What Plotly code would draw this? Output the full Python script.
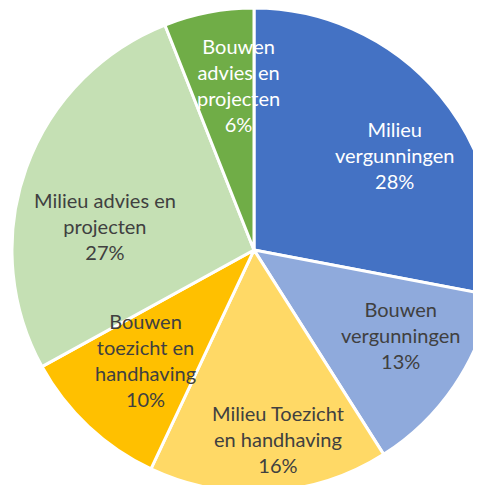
import math
import plotly.graph_objects as go

categories = ["Milieu vergunningen", "Bouwen vergunningen", "Milieu Toezicht en handhaving",
              "Bouwen toezicht en handhaving", "Milieu advies en projecten", "Bouwen advies en projecten"]
label_lines = ["Milieu<br>vergunningen", "Bouwen<br>vergunningen", "Milieu Toezicht<br>en handhaving",
               "Bouwen<br>toezicht en<br>handhaving", "Milieu advies en<br>projecten", "Bouwen<br>advies en<br>projecten"]
values = [28, 13, 16, 10, 27, 6]

colors = ["#4472C4", "#8FAADC", "#FFD966", "#FFC000", "#C5E0B4", "#70AD47"]
text_colors = ["#FFFFFF", "#404040", "#404040", "#404040", "#404040", "#FFFFFF"]
# label placement: (radius fraction, angular offset in degrees from slice middle)
label_place = [(0.70, 5.6), (0.70, -4.0), (0.787, -3.6), (0.637, 1.3), (0.624, -10.6), (0.685, 5.3)]

W, H = 500, 500
off_x, off_y = 8, 8  # page body margin
x0, x1 = 12 - off_x, 496 - off_x
y0, y1 = 8 - off_y, 492 - off_y
cx, cy, r = (x0 + x1) / 2, (y0 + y1) / 2, (x1 - x0) / 2

fig = go.Figure(go.Pie(
    labels=categories, values=values, sort=False, direction="clockwise", rotation=0,
    marker=dict(colors=colors, line=dict(color="white", width=3)),
    textinfo="none", hoverinfo="label+percent", showlegend=False,
    domain=dict(x=[x0 / W, x1 / W], y=[1 - y1 / H, 1 - y0 / H]),
))

total = sum(values)
cum = 0
for i, v in enumerate(values):
    mid = (cum + v / 2) / total * 360
    cum += v
    f, off = label_place[i]
    th = math.radians(mid + off)
    px = cx + r * f * math.sin(th)
    py = cy - r * f * math.cos(th)
    pct = round(v / total * 100)
    fig.add_annotation(x=px / W, y=1 - py / H, xref="paper", yref="paper",
                       text=f"{label_lines[i]}<br>{pct}%", showarrow=False,
                       xanchor="center", yanchor="middle", align="center",
                       font=dict(family="Lato", size=20, color=text_colors[i]))

fig.update_layout(width=W, height=H, margin=dict(l=0, r=0, t=0, b=0),
                  paper_bgcolor="white", plot_bgcolor="white")
fig.write_html("out.html")
